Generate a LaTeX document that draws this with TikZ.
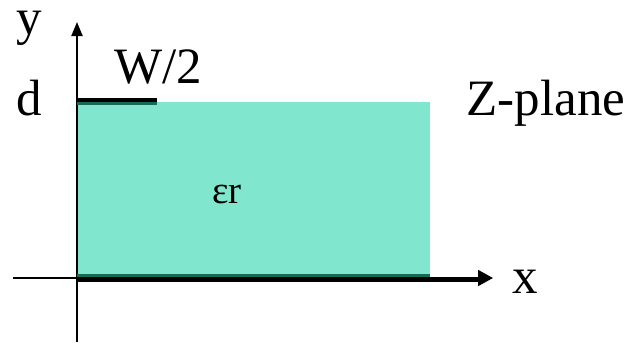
\documentclass[tikz,border=0pt]{standalone}
\usepackage{fontspec}
\setmainfont{Liberation Serif}
\usetikzlibrary{arrows.meta}
\definecolor{subfill}{HTML}{80E6CE}
\definecolor{subedge}{HTML}{166B57}

\begin{document}
\begin{tikzpicture}[
  x=0.5pt, y=-0.5pt,
  axis/.style={line width=1pt, draw=black},
  metal/.style={line width=2.3pt, draw=black},
  rim/.style={line width=1.5pt, draw=subedge},
  lbl/.style={anchor=base, inner sep=0pt, font=\fontsize{25.5}{30}\selectfont},
  small/.style={anchor=base, inner sep=0pt, font=\fontsize{19.5}{23}\selectfont}
]
\useasboundingbox (0,0) rectangle (633,343);

% substrate
\fill[subfill] (77,102) rectangle (430,277);

% axes
\coordinate (yb) at (77,342);
\coordinate (yt) at (77,22);
\coordinate (xl) at (13,278);
\coordinate (xr) at (493,278);
\draw[axis, -{Triangle[length=7pt,width=5.5pt]}] (yb) -- (yt);
\draw[axis, -{Triangle[length=7.5pt,width=8pt]}] (xl) -- (xr);

% ground plane and strip
\draw[rim] (77,275.5) -- (430,275.5);
\draw[metal] (77,279.5) -- (480,279.5);
\draw[rim] (77,103.5) -- (157,103.5);
\draw[metal] (77,100) -- (157,100);

% labels
\node[lbl] (ylab) at (29,34) {y};
\node[lbl] (dlab) at (29,115) {d};
\node[lbl] (wlab) at (158,83) {W/2};
\node[lbl] (zlab) at (546,115) {Z-plane};
\node[small] (erlab) at (227,203) {εr};
\node[lbl] (xlab) at (525,293) {x};

\end{tikzpicture}
\end{document}
